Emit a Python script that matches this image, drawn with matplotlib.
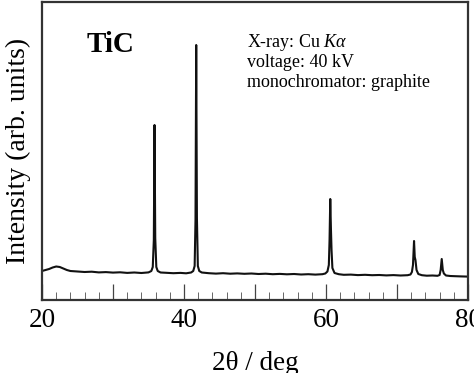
import matplotlib
matplotlib.use("Agg")
import matplotlib.pyplot as plt
from matplotlib.ticker import MultipleLocator, FixedLocator

# 2theta (deg) and intensity (arb. units)
two_theta = [20.0, 20.5, 21.0, 21.5, 22.0, 22.5, 23.0, 23.5, 24.0, 25.0, 26.0, 27.0,
             28.0, 29.0, 30.0, 31.0, 32.0, 33.0, 34.0, 35.0, 35.4, 35.6, 35.75, 35.85,
             35.95, 36.1, 36.3, 36.7, 37.5, 38.5, 39.5, 40.3, 41.0, 41.3, 41.5, 41.62,
             41.72, 41.82, 41.95, 42.15, 42.5, 43.5, 44.5, 45.5, 46.5, 47.5, 48.5, 49.5,
             50.5, 51.5, 52.5, 53.5, 54.5, 55.5, 56.5, 57.5, 58.5, 59.5, 59.9, 60.2,
             60.4, 60.5, 60.6, 60.7, 60.78, 60.9, 61.2, 61.8, 62.5, 63.5, 64.5, 65.5,
             66.5, 67.5, 68.5, 69.5, 70.5, 71.5, 71.9, 72.1, 72.25, 72.4, 72.5, 72.6,
             72.75, 73.0, 73.5, 74.2, 75.0, 75.7, 76.0, 76.15, 76.3, 76.45, 76.6, 76.9,
             77.5, 78.2, 79.0, 80.0]
intensity = [29.0, 30.0, 31.0, 32.5, 33.5, 33.0, 31.5, 30.0, 29.0, 28.5, 28.0, 28.3,
             27.6, 27.9, 27.4, 27.7, 27.1, 27.5, 27.0, 27.6, 29.0, 33.0, 60.0, 175.0,
             62.0, 33.0, 29.0, 27.5, 27.2, 26.8, 27.1, 26.7, 27.5, 29.0, 34.0, 80.0,
             255.0, 82.0, 34.0, 29.0, 27.5, 26.8, 26.4, 26.8, 26.3, 26.6, 26.2, 26.5,
             26.0, 26.3, 25.8, 26.1, 25.7, 26.0, 25.5, 25.8, 25.4, 25.8, 26.5, 28.5,
             35.0, 60.0, 101.0, 70.0, 50.0, 32.0, 27.0, 25.8, 25.2, 25.4, 24.9, 25.2,
             24.8, 25.0, 24.6, 24.9, 24.5, 24.8, 25.5, 28.0, 35.0, 59.0, 43.0, 40.0,
             30.0, 26.0, 24.8, 24.3, 24.5, 24.2, 25.0, 30.0, 41.0, 30.0, 26.5, 24.5,
             24.0, 23.8, 23.6, 23.4]

x_major = [20, 30, 40, 50, 60, 70, 80]
x_labels = ["20", "", "40", "", "60", "", "80"]

plt.rcParams["font.family"] = ["Liberation Serif", "DejaVu Serif"]
plt.rcParams["mathtext.fontset"] = "custom"
plt.rcParams["mathtext.it"] = "Liberation Serif:italic"
plt.rcParams["mathtext.rm"] = "Liberation Serif"

fig = plt.figure(figsize=(4.74, 3.73), dpi=100)
ax = fig.add_axes([42 / 474, 1 - 300 / 373, (468 - 42) / 474, (300 - 2) / 373])

ax.plot(two_theta, intensity, color="#111111", lw=1.5)
ax.set_xlim(20, 80)
ax.set_ylim(0, 298)

ax.xaxis.set_major_locator(FixedLocator(x_major))
ax.set_xticklabels(x_labels)
ax.xaxis.set_minor_locator(MultipleLocator(2))
ax.tick_params(axis="x", which="major", direction="in", length=11.5, width=0.9,
               color="#444444", labelsize=19.5, pad=6)
ax.tick_params(axis="x", which="minor", direction="in", length=5.8, width=0.7,
               color="#666666")
ax.set_yticks([])
for s in ax.spines.values():
    s.set_linewidth(1.6)
    s.set_color("#333333")

ax.set_xlabel("2θ / deg", fontsize=19.5, labelpad=13)
ax.set_ylabel("Intensity (arb. units)", fontsize=20, labelpad=8)

fig.text(87 / 474, 1 - 52 / 373, "TiC", fontsize=21, fontweight="bold",
         ha="left", va="baseline")
fig.text(247 / 474, 1 - 47 / 373, "X-ray: Cu $K\\alpha$", fontsize=13,
         ha="left", va="baseline")
fig.text(247 / 474, 1 - 67 / 373, "voltage: 40 kV", fontsize=13,
         ha="left", va="baseline")
fig.text(247 / 474, 1 - 87 / 373, "monochromator: graphite", fontsize=13,
         ha="left", va="baseline")

fig.savefig("out.png", dpi=100)
